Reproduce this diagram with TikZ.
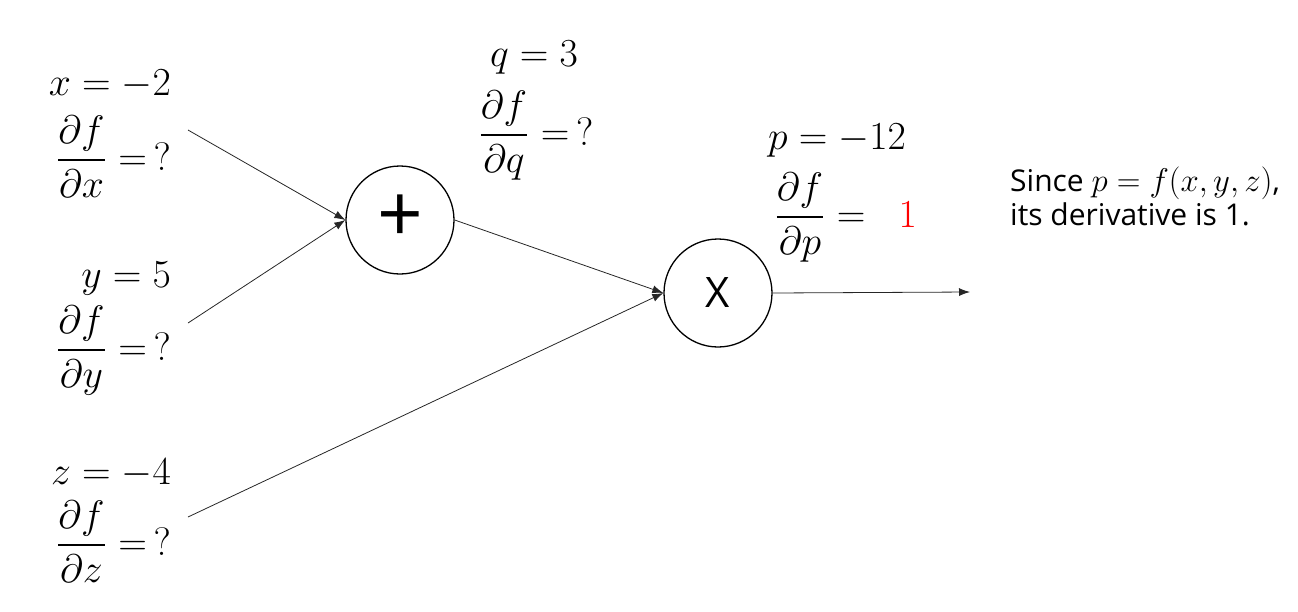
\documentclass[tikz,border=0pt]{standalone}
\usepackage{amsmath}
\usepackage{graphicx}
\usepackage{fontspec}
\newfontfamily\osans{Open Sans}
\usetikzlibrary{arrows.meta}
\newcommand\mlab[1]{\scalebox{2.3}{\fontsize{17.28}{20}\selectfont$\displaystyle #1$}}
\newcommand\nmath[1]{\scalebox{1.9}{\fontsize{17.28}{20}\selectfont$#1$}}
\tikzset{
  lbl/.style={inner sep=0pt},
  gate/.style={circle, draw=black, line width=1.3pt, minimum size=108pt, inner sep=0pt},
  wire/.style={draw=black!85, line width=0.8pt},
  arr/.style={wire, -{Latex[length=11pt,width=8pt]}},
  note/.style={inner sep=0pt, font=\osans\fontsize{30}{36}\selectfont}
}
\begin{document}
\begin{tikzpicture}[x=1pt,y=-1pt]
\useasboundingbox (0,0) rectangle (1298,611);
% gates
\node[gate, font=\osans\fontsize{80}{80}\selectfont] (plus) at (400,220) {\raisebox{3pt}{+}};
\node[gate, font=\osans\fontsize{42}{42}\selectfont] (mul) at (718,293) {X};
% wire ends
\coordinate (xs) at (188,130);
\coordinate (ys) at (188,323);
\coordinate (zs) at (188,517);
\coordinate (out) at (970,292);
% connectors
\draw[arr] (xs) -- (plus.west);
\draw[arr] (ys) -- (plus.west);
\draw[arr] (plus.east) -- (mul.west);
\draw[arr] (zs) -- (mul.west);
\draw[arr] (mul.east) -- (out);
% labels
\node[lbl, anchor=base east] (xv) at (171,95) {\mlab{x=-2}};
\node[lbl, anchor=base east] (xd) at (171,170) {\mlab{\frac{\partial f}{\partial x}=\,?}};
\node[lbl, anchor=base east] (yv) at (171,287) {\mlab{y=5}};
\node[lbl, anchor=base east] (yd) at (171,360) {\mlab{\frac{\partial f}{\partial y}=\,?}};
\node[lbl, anchor=base east] (zv) at (171,484) {\mlab{z=-4}};
\node[lbl, anchor=base east] (zd) at (171,555) {\mlab{\frac{\partial f}{\partial z}=\,?}};
\node[lbl, anchor=base west] (qv) at (490,66) {\mlab{q=3}};
\node[lbl, anchor=base west] (qd) at (478,145) {\mlab{\frac{\partial f}{\partial q}=\,?}};
\node[lbl, anchor=base west] (pv) at (768,149) {\mlab{p=-12}};
\node[lbl, anchor=base west] (pd) at (774,227) {\mlab{\frac{\partial f}{\partial p}=\;\;\textcolor{red}{1}}};
\node[note, anchor=base west] (nt1) at (1010,191) {Since \nmath{p=f(x,y,z)},};
\node[note, anchor=base west] (nt2) at (1010,225) {its derivative is 1.};
\end{tikzpicture}
\end{document}
